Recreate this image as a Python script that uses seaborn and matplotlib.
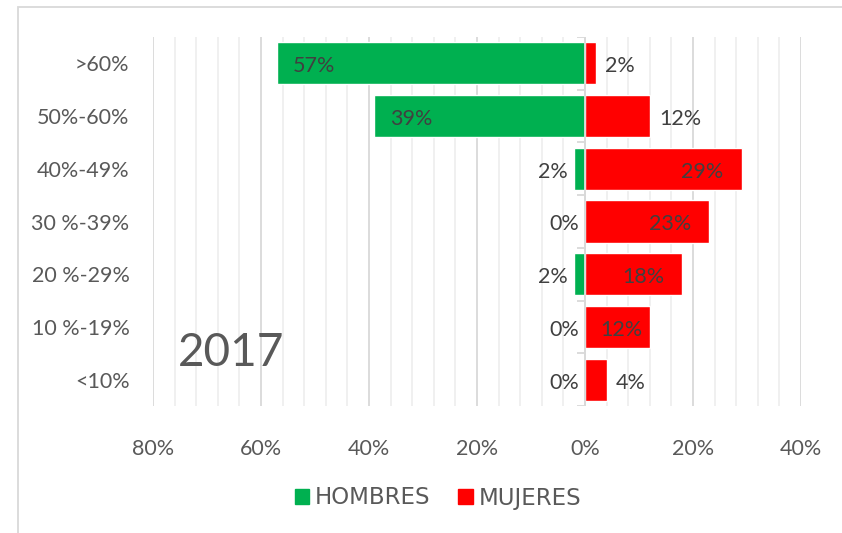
import matplotlib
matplotlib.use('Agg')
import matplotlib.pyplot as plt
import matplotlib.patches as mpatches
import numpy as np
import pandas as pd
import seaborn as sns

RANGOS = ['>60%', '50%-60%', '40%-49%', '30 %-39%', '20 %-29%', '10 %-19%', '<10%']
HOMBRES = [57, 39, 2, 0, 2, 0, 0]
MUJERES = [2, 12, 29, 23, 18, 12, 4]
X_TICKS = [-80, -60, -40, -20, 0, 20, 40]
ANIO = '2017'

# where each data label sits (as set by hand in the original chart)
POS_HOMBRES = ['in', 'in', 'out', 'out', 'out', 'out', 'out']
POS_MUJERES = ['out', 'out', 'in', 'in', 'in', 'mid', 'out']

GREEN = '#00B050'
RED = '#FF0000'
TEXT = '#595959'
LABEL = '#404040'

sns.set_style('white')
plt.rcParams['font.family'] = ['Lato', 'DejaVu Sans']

df = pd.DataFrame({
    'rango': RANGOS * 2,
    'valor': [-v for v in HOMBRES] + MUJERES,
    'sexo': ['HOMBRES'] * len(RANGOS) + ['MUJERES'] * len(RANGOS),
})

fig = plt.figure(figsize=(8.42, 5.33), dpi=100)
ax = fig.add_axes([153 / 842, 1 - 406 / 533, 648 / 842, 369 / 533])

sns.barplot(data=df, x='valor', y='rango', hue='sexo', dodge=False, width=0.8,
            palette={'HOMBRES': GREEN, 'MUJERES': RED}, saturation=1, orient='h',
            order=RANGOS, legend=False, ax=ax, zorder=3)

ax.set_xlim(-80, 40)
ax.set_ylim(len(RANGOS) - 0.5, -0.5)
ax.set_xticks(X_TICKS)
ax.set_xticklabels([f'{abs(t)}%' for t in X_TICKS])
ax.grid(False)
for x in np.arange(-80, 41, 4):
    major = x % 20 == 0
    ax.axvline(x, color='#D9D9D9' if major else '#EFEFEF', lw=1.3, zorder=0)
ax.tick_params(axis='x', which='both', length=0, pad=24, labelsize=15.5, labelcolor=TEXT)
ax.tick_params(axis='y', length=0, pad=17, labelsize=15.5, labelcolor=TEXT)
ax.set_xlabel('')
ax.set_ylabel('')
for s in ax.spines.values():
    s.set_visible(False)

# vertical category axis at 0 with small ticks between categories
ax.axvline(0, color='#D9D9D9', lw=1.3, zorder=4)
bounds = np.arange(len(RANGOS) + 1) - 0.5
ax.hlines(bounds, -1.4, 0, color='#D9D9D9', lw=1.3, zorder=4)

DY = -3  # labels sit a touch below the bar centre
for i, (h, m) in enumerate(zip(HOMBRES, MUJERES)):
    if POS_HOMBRES[i] == 'in':
        ax.annotate(f'{h}%', (-h, i), xytext=(16, DY), textcoords='offset pixels',
                    ha='left', va='center', fontsize=15.5, color=LABEL, zorder=5)
    else:
        ax.annotate(f'{h}%', (-h, i), xytext=(-6, DY), textcoords='offset pixels',
                    ha='right', va='center', fontsize=15.5, color=LABEL, zorder=5)
    if POS_MUJERES[i] == 'in':
        ax.annotate(f'{m}%', (m, i), xytext=(-18, DY), textcoords='offset pixels',
                    ha='right', va='center', fontsize=15.5, color=LABEL, zorder=5)
    elif POS_MUJERES[i] == 'mid':
        ax.annotate(f'{m}%', (m / 2, i), xytext=(4, DY), textcoords='offset pixels',
                    ha='center', va='center', fontsize=15.5, color=LABEL, zorder=5)
    else:
        ax.annotate(f'{m}%', (m, i), xytext=(9, DY), textcoords='offset pixels',
                    ha='left', va='center', fontsize=15.5, color=LABEL, zorder=5)

fig.text(231 / 842, 1 - 353 / 533, ANIO, ha='center', va='center',
         fontsize=33, color=TEXT)

handles = [mpatches.Patch(color=GREEN, label='HOMBRES'),
           mpatches.Patch(color=RED, label='MUJERES')]
leg = fig.legend(handles=handles, loc='center', bbox_to_anchor=(438 / 842, 1 - 498 / 533),
                 ncol=2, frameon=False, handlelength=0.65, handleheight=0.65,
                 handletextpad=0.25, columnspacing=1.2,
                 prop={'family': 'DejaVu Sans', 'size': 16.5})
for t in leg.get_texts():
    t.set_color(TEXT)

# chart area border (clipped at the right and bottom like the original)
fig.patches.append(mpatches.Rectangle((18 / 842, -0.1), 1.2, 1 - 7 / 533 + 0.1,
                                      transform=fig.transFigure, fill=False,
                                      edgecolor='#D9D9D9', lw=1.3))

fig.savefig('out.png', dpi=100)
